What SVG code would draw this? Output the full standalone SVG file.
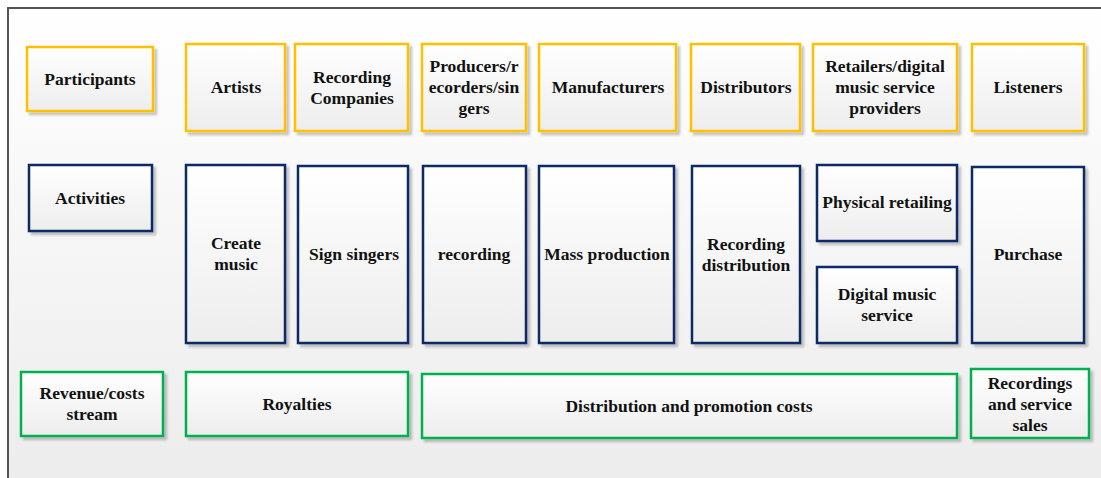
<svg xmlns="http://www.w3.org/2000/svg" width="1101" height="478" viewBox="0 0 1101 478">
<defs>
<linearGradient id="bg" x1="0" y1="0" x2="0" y2="1">
<stop offset="0" stop-color="#ffffff"/>
<stop offset="1" stop-color="#ececec"/>
</linearGradient>
<linearGradient id="box" x1="0" y1="0" x2="0" y2="1">
<stop offset="0" stop-color="#ffffff"/>
<stop offset="1" stop-color="#ededed"/>
</linearGradient>
<filter id="sh" x="-10%" y="-10%" width="130%" height="130%">
<feGaussianBlur in="SourceAlpha" stdDeviation="1.2"/>
<feOffset dx="2.5" dy="2.5" result="o"/>
<feComponentTransfer><feFuncA type="linear" slope="0.22"/></feComponentTransfer>
<feMerge><feMergeNode/><feMergeNode in="SourceGraphic"/></feMerge>
</filter>
</defs>
<style>
.b{fill:url(#box);stroke-width:2.5;filter:url(#sh)}
.y{stroke:#FFC000}
.n{stroke:#0E2A66}
.g{stroke:#00B050}
.t text{font-weight:bold;font-size:17.5px;fill:#111;text-anchor:middle}
</style>
<rect x="0" y="0" width="1101" height="478" fill="#ffffff"/>
<rect x="8" y="8" width="1100" height="480" fill="url(#bg)" stroke="#555" stroke-width="2"/>
<g id="connectors"></g>
<g class="t" font-family="'Liberation Serif', 'Times New Roman', Times, serif">
<g id="participants"><rect class="b y" x="27" y="47" width="126" height="64"/><text x="90" y="85">Participants</text></g>
<g id="artists"><rect class="b y" x="186" y="44" width="99" height="87"/><text x="236" y="93">Artists</text></g>
<g id="recording-companies"><rect class="b y" x="295" y="44" width="113" height="87"/><text x="352" y="83">Recording</text><text x="352" y="104">Companies</text></g>
<g id="producers"><rect class="b y" x="422" y="44" width="104" height="87"/><text x="474" y="72">Producers/r</text><text x="474" y="93">ecorders/sin</text><text x="474" y="114">gers</text></g>
<g id="manufacturers"><rect class="b y" x="539" y="44" width="137" height="87"/><text x="608" y="93">Manufacturers</text></g>
<g id="distributors"><rect class="b y" x="691" y="44" width="109" height="87"/><text x="746" y="93">Distributors</text></g>
<g id="retailers"><rect class="b y" x="813" y="44" width="144" height="87"/><text x="885" y="72">Retailers/digital</text><text x="885" y="93">music service</text><text x="885" y="114">providers</text></g>
<g id="listeners"><rect class="b y" x="972" y="44" width="112" height="87"/><text x="1028" y="93">Listeners</text></g>

<g id="activities"><rect class="b n" x="29" y="165" width="123" height="66"/><text x="90" y="204">Activities</text></g>
<g id="create-music"><rect class="b n" x="186" y="165" width="99" height="178"/><text x="236" y="249">Create</text><text x="236" y="270">music</text></g>
<g id="sign-singers"><rect class="b n" x="298" y="166" width="110" height="177"/><text x="354" y="260">Sign singers</text></g>
<g id="recording"><rect class="b n" x="423" y="166" width="103" height="177"/><text x="474" y="260">recording</text></g>
<g id="mass-production"><rect class="b n" x="539" y="166" width="135" height="177"/><text x="607" y="260">Mass production</text></g>
<g id="recording-distribution"><rect class="b n" x="692" y="166" width="108" height="177"/><text x="746" y="250">Recording</text><text x="746" y="271">distribution</text></g>
<g id="physical-retailing"><rect class="b n" x="817" y="165" width="140" height="76"/><text x="887" y="208">Physical retailing</text></g>
<g id="digital-music-service"><rect class="b n" x="817" y="267" width="140" height="76"/><text x="887" y="300">Digital music</text><text x="887" y="321">service</text></g>
<g id="purchase"><rect class="b n" x="972" y="167" width="112" height="176"/><text x="1028" y="260">Purchase</text></g>

<g id="revenue"><rect class="b g" x="21" y="372" width="142" height="64"/><text x="92" y="399">Revenue/costs</text><text x="92" y="420">stream</text></g>
<g id="royalties"><rect class="b g" x="186" y="372" width="222" height="64"/><text x="297" y="410">Royalties</text></g>
<g id="distribution-costs"><rect class="b g" x="422" y="374" width="535" height="64"/><text x="689" y="412">Distribution and promotion costs</text></g>
<g id="sales"><rect class="b g" x="971" y="369" width="118" height="69"/><text x="1030" y="389">Recordings</text><text x="1030" y="410">and service</text><text x="1030" y="431">sales</text></g>
</g>
</svg>
